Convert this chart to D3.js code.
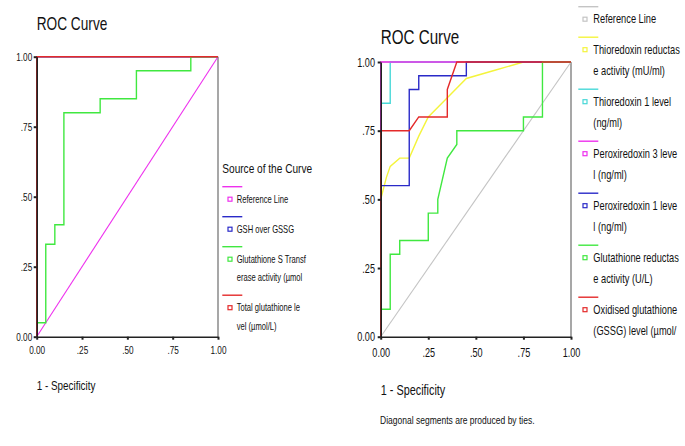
<!DOCTYPE html>
<html><head><meta charset="utf-8">
<script src="https://cdn.jsdelivr.net/npm/d3@7"></script>
<style>
html,body{margin:0;padding:0;background:#fff;}
svg text{font-family:"Liberation Sans",Arial,sans-serif;fill:#111;}
</style></head>
<body>
<svg id="c" width="685" height="446"></svg>
<script>
// ---------- DATA ----------
const tickValues = [0, 0.25, 0.5, 0.75, 1];
const tickLabels = ["0.00", ".25", ".50", ".75", "1.00"];

// Left chart
const leftRefFpr = [0, 1];
const leftRefTpr = [0, 1];
const leftGshFpr = [0, 0, 1];
const leftGshTpr = [0, 1, 1];
const leftGstFpr = [0, 0, 0.05, 0.05, 0.10, 0.10, 0.15, 0.15, 0.35, 0.35, 0.55, 0.55, 0.85, 0.85, 1];
const leftGstTpr = [0, 0.05, 0.05, 0.33, 0.33, 0.40, 0.40, 0.80, 0.80, 0.85, 0.85, 0.95, 0.95, 1, 1];
const leftTotFpr = [0, 0, 1];
const leftTotTpr = [0, 1, 1];
const leftLegendTitle = "Source of the Curve";
const leftLegendLabels = [
  ["Reference Line"],
  ["GSH over GSSG"],
  ["Glutathione S Transf", "erase activity (µmol"],
  ["Total glutathione le", "vel (µmol/L)"]
];

// Right chart
const rightRefFpr = [0, 1];
const rightRefTpr = [0, 1];
const rightTrxRFpr = [0, 0, 0.03, 0.05, 0.10, 0.15, 0.20, 0.25, 0.35, 0.45, 0.60, 0.75, 1];
const rightTrxRTpr = [0, 0.50, 0.58, 0.62, 0.65, 0.65, 0.73, 0.80, 0.87, 0.94, 0.97, 1, 1];
const rightTrx1Fpr = [0, 0, 0.05, 0.05, 1];
const rightTrx1Tpr = [0, 0.85, 0.85, 1, 1];
const rightPrx3Fpr = [0, 0, 1];
const rightPrx3Tpr = [0, 1, 1];
const rightPrx1Fpr = [0, 0, 0.15, 0.15, 0.20, 0.20, 0.45, 0.45, 1];
const rightPrx1Tpr = [0, 0.55, 0.55, 0.90, 0.90, 0.95, 0.95, 1, 1];
const rightGrFpr = [0, 0, 0.05, 0.05, 0.10, 0.10, 0.25, 0.25, 0.30, 0.30, 0.35, 0.40, 0.40, 0.75, 0.75, 0.85, 0.85, 1];
const rightGrTpr = [0, 0.10, 0.10, 0.30, 0.30, 0.35, 0.35, 0.45, 0.45, 0.50, 0.65, 0.70, 0.75, 0.75, 0.80, 0.80, 1, 1];
const rightGssgFpr = [0, 0, 0.15, 0.20, 0.35, 0.35, 0.40, 1];
const rightGssgTpr = [0, 0.75, 0.75, 0.80, 0.80, 0.90, 1, 1];
const rightLegendLabels = [
  ["Reference Line"],
  ["Thioredoxin reductas", "e activity (mU/ml)"],
  ["Thioredoxin 1 level", "(ng/ml)"],
  ["Peroxiredoxin 3 leve", "l (ng/ml)"],
  ["Peroxiredoxin 1 leve", "l (ng/ml)"],
  ["Glutathione reductas", "e activity (U/L)"],
  ["Oxidised glutathione", " (GSSG) level (µmol/"]
];
const titleText = "ROC Curve";
const xTitle = "1 - Specificity";
const footnote = "Diagonal segments are produced by ties.";

// ---------- STYLE ----------
const C = {
  magenta: "#ee30ee", blue: "#2a2ac8", green: "#40e840", red: "#e42a2a",
  yellow: "#f4f43c", cyan: "#48d8d8", gray: "#c4c4c4"
};
const SX = 0.76; // horizontal compression of the condensed font

const svg = d3.select("#c");

function txt(g, x, y, s, size, anchor) {
  return g.append("text")
    .attr("transform", `translate(${x},${y}) scale(${SX},1)`)
    .attr("text-anchor", anchor || "start")
    .style("font-size", size + "px")
    .text(s);
}

function drawChart(cfg) {
  const g = svg.append("g");
  const x = d3.scaleLinear().domain([0, 1]).range([cfg.x0, cfg.x1]);
  const y = d3.scaleLinear().domain([0, 1]).range([cfg.y0, cfg.y1]);

  // right border
  g.append("line").attr("x1", cfg.x1).attr("x2", cfg.x1).attr("y1", cfg.y0).attr("y2", cfg.y1)
    .attr("stroke", "#8a8a8a").attr("stroke-width", 1.5);
  g.append("line").attr("x1", cfg.x0).attr("x2", cfg.x1).attr("y1", cfg.y1).attr("y2", cfg.y1)
    .attr("stroke", "#8a8a8a").attr("stroke-width", 1);

  // series
  const line = d3.line().x(d => x(d[0])).y(d => y(d[1]));
  cfg.series.forEach(s => {
    const pts = s.fpr.map((f, i) => [f, s.tpr[i]]);
    g.append("path").attr("d", line(pts)).attr("fill", "none")
      .attr("stroke", s.color).attr("stroke-width", s.w || 1.4);
  });

  // axes (drawn over the curves)
  const ax = g.append("g").attr("transform", `translate(0,${cfg.y0})`)
    .call(d3.axisBottom(x).tickValues(tickValues).tickFormat((d, i) => tickLabels[i]).tickSize(3).tickSizeOuter(0));
  const ay = g.append("g").attr("transform", `translate(${cfg.x0},0)`)
    .call(d3.axisLeft(y).tickValues(tickValues).tickFormat((d, i) => tickLabels[i]).tickSize(3).tickSizeOuter(0));
  [ax, ay].forEach(a => {
    a.select(".domain").attr("stroke", "#222").attr("stroke-width", 1.6);
    a.selectAll(".tick line").attr("stroke", "#222").attr("stroke-width", 2);
    a.selectAll(".tick text").style("font-family", '"Liberation Sans",Arial,sans-serif')
      .style("font-size", cfg.tickSize + "px").attr("fill", "#111");
  });
  ax.selectAll(".tick text").attr("y", 0).attr("dy", "0.35em")
    .attr("transform", `translate(0,${cfg.xLabOff}) scale(${SX},1)`);
  ay.selectAll(".tick text").attr("x", 0).attr("dy", "0.35em")
    .attr("transform", `translate(${-cfg.yLabOff},0) scale(${SX},1)`);

  // titles
  txt(g, cfg.x0, cfg.titleY, titleText, cfg.titleSize);
  txt(g, cfg.x0, cfg.xTitleY, xTitle, cfg.xTitleSize);

  // legend
  const L = cfg.legend;
  if (L.title) txt(g, L.x, L.titleY, L.title, L.titleSize);
  let ly = L.y;
  L.labels.forEach((lines, i) => {
    const col = cfg.series[i].color;
    g.append("line").attr("x1", L.x).attr("x2", L.x + 20).attr("y1", ly).attr("y2", ly)
      .attr("stroke", col).attr("stroke-width", 1.4);
    g.append("rect").attr("x", L.sqX - 2).attr("y", ly + L.sqOff - 2).attr("width", 4).attr("height", 4)
      .attr("fill", "#fff").attr("stroke", col).attr("stroke-width", 1.2);
    lines.forEach((t, j) => {
      txt(g, L.tx, ly + L.sqOff + L.size * 0.35 + j * L.lineH, t, L.size);
    });
    ly += L.base + (lines.length - 1) * L.lineH;
  });
  return g;
}

drawChart({
  x0: 36.7, x1: 218, y0: 336.7, y1: 56.7,
  tickSize: 10.8, xLabOff: 13.5, yLabOff: 4.5,
  titleY: 30, titleSize: 18, xTitleY: 390, xTitleSize: 13,
  series: [
    { fpr: leftRefFpr, tpr: leftRefTpr, color: C.magenta, w: 1.1 },
    { fpr: leftGshFpr, tpr: leftGshTpr, color: C.blue },
    { fpr: leftGstFpr, tpr: leftGstTpr, color: C.green },
    { fpr: leftTotFpr, tpr: leftTotTpr, color: C.red }
  ],
  legend: {
    title: leftLegendTitle, titleY: 172.5, titleSize: 13.3,
    x: 222.3, y: 186.7, sqX: 230, sqOff: 12.5, tx: 236.7,
    size: 10, lineH: 18.5, base: 30, labels: leftLegendLabels
  }
});

drawChart({
  x0: 380.7, x1: 571, y0: 336.7, y1: 62,
  tickSize: 12, xLabOff: 16.5, yLabOff: 5.7,
  titleY: 44, titleSize: 20, xTitleY: 395, xTitleSize: 14.3,
  series: [
    { fpr: rightRefFpr, tpr: rightRefTpr, color: C.gray, w: 1.1 },
    { fpr: rightTrxRFpr, tpr: rightTrxRTpr, color: C.yellow },
    { fpr: rightTrx1Fpr, tpr: rightTrx1Tpr, color: C.cyan },
    { fpr: rightPrx3Fpr, tpr: rightPrx3Tpr, color: C.magenta },
    { fpr: rightPrx1Fpr, tpr: rightPrx1Tpr, color: C.blue },
    { fpr: rightGrFpr, tpr: rightGrTpr, color: C.green },
    { fpr: rightGssgFpr, tpr: rightGssgTpr, color: C.red }
  ],
  legend: {
    title: null,
    x: 578.3, y: 6.7, sqX: 585, sqOff: 12.5, tx: 593.3,
    size: 12.2, lineH: 21.5, base: 30.5, labels: rightLegendLabels
  }
});

txt(svg, 380, 424, footnote, 11.2);
</script>
</body></html>
